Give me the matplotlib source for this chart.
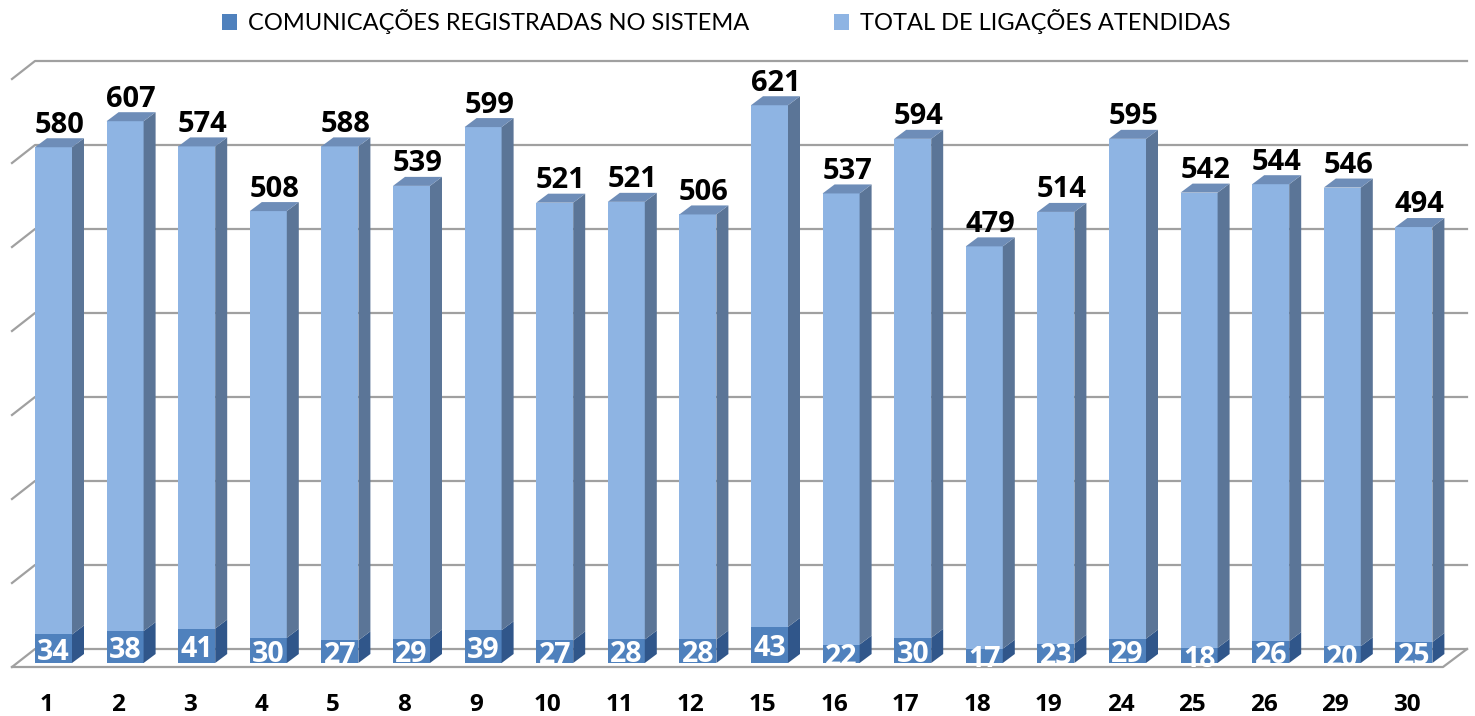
import matplotlib
matplotlib.use('Agg')
import matplotlib.pyplot as plt
from matplotlib.patches import Polygon, Patch
from matplotlib.lines import Line2D

# ---- data ----
days = ['1', '2', '3', '4', '5', '8', '9', '10', '11', '12', '15', '16', '17',
        '18', '19', '24', '25', '26', '29', '30']
registradas = [34, 38, 41, 30, 27, 29, 39, 27, 28, 28, 43, 22, 30, 17, 23, 29,
               18, 26, 20, 25]
atendidas = [580, 607, 574, 508, 588, 539, 599, 521, 521, 506, 621, 537, 594,
             479, 514, 595, 542, 544, 546, 494]
series_names = ['COMUNICAÇÕES REGISTRADAS NO SISTEMA', 'TOTAL DE LIGAÇÕES ATENDIDAS']
grid_values = [0, 100, 200, 300, 400, 500, 600, 700]

# ---- layout (pixels) ----
W, H = 1475, 716
PX_PER_CAT = 71.6
PX_PER_UNIT = 0.84
X0_PX = 53.5     # centre of first bar front face
Y0_PX = 663      # bar front bottom, from top
BAR_W = 37 / PX_PER_CAT

def dxp(p):
    return p / PX_PER_CAT

def dyp(p):
    return p / PX_PER_UNIT

BAR_DX, BAR_DY = dxp(12), dyp(9)

light_front, light_side, light_top = '#8EB4E3', '#5B7597', '#6E8DB8'
dark_front, dark_side = '#4F81BD', '#30568A'
grid_col = '#A0A0A0'

NUM_FONT = 'Open Sans'
LEG_FONT = 'Lato'

fig = plt.figure(figsize=(W / 100, H / 100), dpi=100)
ax = fig.add_axes([0, 0, 1, 1])
ax.set_xlim(-X0_PX / PX_PER_CAT, (W - X0_PX) / PX_PER_CAT)
ax.set_ylim(-(H - Y0_PX) / PX_PER_UNIT, Y0_PX / PX_PER_UNIT)
ax.axis('off')

# ---- walls / gridlines ----
xf_left = dxp(12 - X0_PX)
xb_left = dxp(35 - X0_PX)
xf_right = dxp(1443 - X0_PX)
xb_right = dxp(1467 - X0_PX)
back_off = dyp(14)
depth = dyp(18)
for v in grid_values:
    yb = v + back_off
    ax.add_line(Line2D([xf_left, xb_left, xb_right], [yb - depth, yb, yb],
                       color=grid_col, lw=1.6, zorder=1))
floor_front = -dyp(4)
ax.add_line(Line2D([xf_left, xf_right, xb_right],
                   [floor_front, floor_front, back_off],
                   color=grid_col, lw=1.6, zorder=1))

# ---- bars ----
x = list(range(len(days)))
ax.bar(x, registradas, width=BAR_W, color=dark_front, zorder=3)
ax.bar(x, atendidas, width=BAR_W, bottom=registradas, color=light_front, zorder=3)

for i in x:
    x0, x1 = i - BAR_W / 2, i + BAR_W / 2
    segs = [(0, registradas[i], dark_side),
            (registradas[i], registradas[i] + atendidas[i], light_side)]
    for y0, y1, c in segs:
        ax.add_patch(Polygon([(x1, y0), (x1 + BAR_DX, y0 + BAR_DY),
                              (x1 + BAR_DX, y1 + BAR_DY), (x1, y1)],
                             closed=True, facecolor=c, edgecolor='none', zorder=3))
    top = registradas[i] + atendidas[i]
    ax.add_patch(Polygon([(x0, top), (x0 + BAR_DX, top + BAR_DY),
                          (x1 + BAR_DX, top + BAR_DY), (x1, top)],
                         closed=True, facecolor=light_top, edgecolor='none', zorder=3))

    # labels
    ax.annotate(str(atendidas[i]), (i + BAR_DX / 2, top + BAR_DY),
                xytext=(0, 4), textcoords='offset points', ha='center',
                va='baseline', fontsize=21, fontweight='bold', family=NUM_FONT,
                color='black', zorder=5)
    ax.annotate(str(registradas[i]), (i, registradas[i] / 2),
                xytext=(0, -8), textcoords='offset points', ha='center',
                va='baseline', fontsize=20.5, fontweight='bold', family=NUM_FONT,
                color='white', zorder=5)
    ax.annotate(days[i], (i, floor_front), xytext=(-5, -32),
                textcoords='offset points', ha='center', va='baseline',
                fontsize=17.5, fontweight='bold', family=NUM_FONT, color='black')

# ---- legend ----
handles = [Patch(facecolor=dark_front, edgecolor='none'),
           Patch(facecolor=light_front, edgecolor='none')]
fig.legend(handles, series_names, loc='center', bbox_to_anchor=(726 / W, 1 - 22 / H),
           ncol=2, frameon=False, handlelength=0.65, handleheight=0.65,
           handletextpad=0.45, columnspacing=3.6,
           prop={'family': LEG_FONT, 'size': 17})

fig.savefig('out.png', dpi=100)
